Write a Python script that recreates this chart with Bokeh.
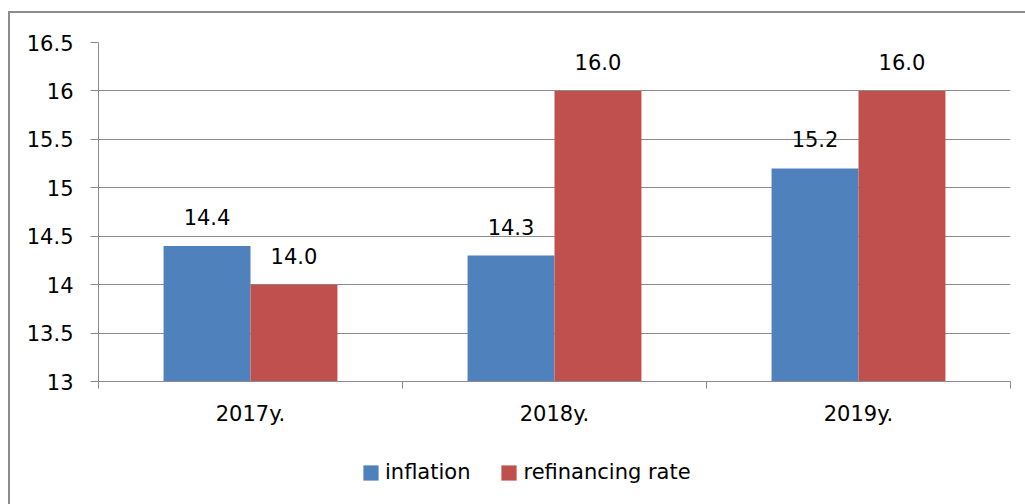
from bokeh.plotting import figure
from bokeh.layouts import column
from bokeh.models import (ColumnDataSource, FactorRange, Range1d, FixedTicker, LinearAxis,
                          CustomJSTickFormatter, Legend, LegendItem)
from bokeh.transform import dodge
from bokeh.core.properties import value
from bokeh.embed import file_html
from bokeh.resources import INLINE

# ---- data ----
years = ["2017y.", "2018y.", "2019y."]
inflation = [14.4, 14.3, 15.2]
refinancing_rate = [14.0, 16.0, 16.0]
series_names = ["inflation", "refinancing rate"]
y_ticks = [13, 13.5, 14, 14.5, 15, 15.5, 16, 16.5]

FONT = "DejaVu Sans"
GRAY = "#8c8c8c"
BLUE = "#4f81bd"
RED = "#c0504d"
FS = "21px"

src = ColumnDataSource(dict(
    year=years,
    inflation=inflation,
    refinancing=refinancing_rate,
    inf_lbl=[f"{v:.1f}" for v in inflation],
    ref_lbl=[f"{v:.1f}" for v in refinancing_rate],
))

p = figure(width=1025, height=440,
           x_range=FactorRange(factors=years, range_padding=0),
           y_range=Range1d(y_ticks[0], y_ticks[-1]),
           output_backend="svg", toolbar_location=None,
           x_axis_location=None, y_axis_location="left",
           min_border_left=98, min_border_right=15, min_border_top=42, min_border_bottom=59)
p.outline_line_color = None
p.background_fill_color = "white"
p.border_fill_color = None

BW = 0.286
OFF = 0.143
r1 = p.vbar(x=dodge("year", -OFF, range=p.x_range), top="inflation", width=BW, source=src,
            fill_color=BLUE, line_color=None)
r2 = p.vbar(x=dodge("year", OFF, range=p.x_range), top="refinancing", width=BW, source=src,
            fill_color=RED, line_color=None)

for col, lbl, off in (("inflation", "inf_lbl", -OFF), ("refinancing", "ref_lbl", OFF)):
    p.text(x=dodge("year", off, range=p.x_range), y=col, text=lbl, source=src,
           text_align="center", text_baseline="alphabetic", y_offset=-29,
           text_font=value(FONT), text_font_size=FS, text_color="black")

# y axis
yax = p.yaxis[0]
yax.ticker = FixedTicker(ticks=y_ticks)
yax.formatter = CustomJSTickFormatter(code="return String(tick)")
yax.major_tick_out = 8
yax.major_tick_in = 0
yax.minor_tick_line_color = None
yax.axis_line_color = GRAY
yax.major_tick_line_color = GRAY
yax.major_label_standoff = 17
yax.major_label_text_font = FONT
yax.major_label_text_font_size = FS
yax.major_label_text_color = "black"

p.ygrid.ticker = FixedTicker(ticks=y_ticks)
p.ygrid.grid_line_color = GRAY
p.xgrid.visible = False

# x axis: labels at category centres, tick marks between categories
n = len(years)
x_axis = LinearAxis(
    ticker=FixedTicker(ticks=[i + 0.5 for i in range(n)], minor_ticks=list(range(n + 1))),
    formatter=CustomJSTickFormatter(args=dict(names=years),
                                    code="return names[Math.floor(tick)]"),
    major_tick_out=7, major_tick_in=0, major_tick_line_color=None,
    minor_tick_out=7, minor_tick_in=0, minor_tick_line_color=GRAY,
    axis_line_color=GRAY, major_label_standoff=13,
    major_label_text_font=FONT, major_label_text_font_size=FS,
    major_label_text_color="black")
p.add_layout(x_axis, "below")

# ---- legend strip below the chart (frame is aligned with the chart's frame) ----
lg = figure(width=1025, height=64, title=None,
            x_range=FactorRange(factors=years, range_padding=0),
            y_range=Range1d(y_ticks[0], y_ticks[-1]),
            output_backend="svg", toolbar_location=None,
            x_axis_location=None, y_axis_location=None,
            min_border_left=0, min_border_right=0, min_border_top=0, min_border_bottom=0)
lg.outline_line_color = None
lg.background_fill_color = None
lg.border_fill_color = None
lg.grid.visible = False
# zero-height swatch renderers (same series, same colours) that only feed the legend
s1 = lg.vbar(x="year", top="inflation", bottom="inflation", width=BW, source=src,
             fill_color=BLUE, line_color=None)
s2 = lg.vbar(x="year", top="refinancing", bottom="refinancing", width=BW, source=src,
             fill_color=RED, line_color=None)

legend = Legend(items=[LegendItem(label=series_names[0], renderers=[s1]),
                       LegendItem(label=series_names[1], renderers=[s2])],
                orientation="horizontal", location=(263, 20),
                glyph_width=19, glyph_height=19, label_standoff=5, spacing=29,
                padding=0, margin=0, border_line_color=None, background_fill_alpha=0,
                label_text_font=FONT, label_text_font_size=FS, label_text_color="black")
lg.add_layout(legend)

layout = column(p, lg, spacing=0)
# outer chart border (left and top edges visible in the reference)
layout.styles = {
    "background-color": "white",
    "background-image": f"linear-gradient({GRAY}, {GRAY}), linear-gradient({GRAY}, {GRAY})",
    "background-size": "2px 100%, 100% 2px",
    "background-position": "8px 11px, 8px 11px",
    "background-repeat": "no-repeat",
}

open("out.html", "w").write(file_html(layout, INLINE))
